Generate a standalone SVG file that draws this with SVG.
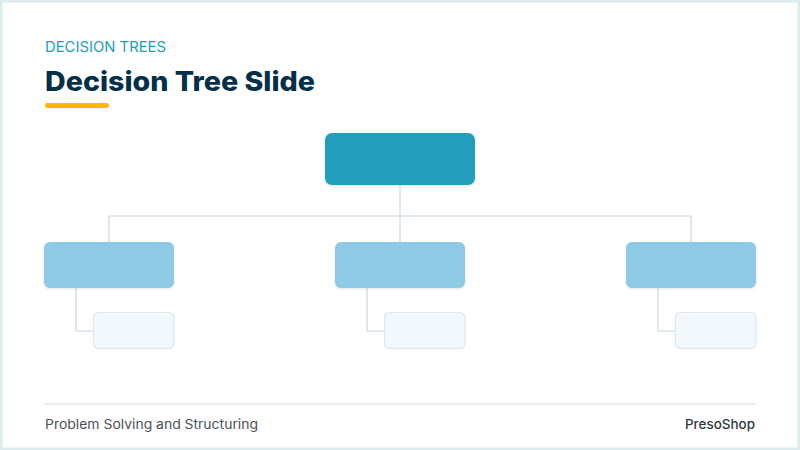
<svg xmlns="http://www.w3.org/2000/svg" width="800" height="450" viewBox="0 0 800 450">
  <defs>
    <style>
      .frame { fill: #ffffff; stroke: #dcebee; stroke-width: 5; }
      .kicker { font-family: Inter, "Noto Sans", sans-serif; font-size: 15px; fill: #219ebc; }
      .title { font-family: Inter, "Noto Sans", sans-serif; font-size: 27px; font-weight: 800; fill: #033049; }
      .foot { font-family: Inter, "Noto Sans", sans-serif; font-size: 13px; fill: #4a5157; }
      .brand { font-family: Inter, "Noto Sans", sans-serif; font-size: 13px; font-weight: 500; fill: #2f383f; }
      .root { fill: #219ebc; }
      .branch { fill: #8ecae6; }
      .leaf { fill: #f3f8fc; stroke: #dde6eb; stroke-width: 1.2; }
      .conn { fill: none; stroke: #d6e2e6; stroke-width: 1.6; }
    </style>
    <filter id="sh" x="-10%" y="-10%" width="120%" height="130%">
      <feDropShadow dx="0" dy="1" stdDeviation="1.2" flood-color="#0a3a4a" flood-opacity="0.12"/>
    </filter>
  </defs>

  <rect class="frame" x="0" y="0" width="800" height="450"/>

  <text class="kicker" x="45" y="51.5" textLength="121" lengthAdjust="spacingAndGlyphs">DECISION TREES</text>
  <text class="title" x="45" y="90.5" textLength="270" lengthAdjust="spacingAndGlyphs">Decision Tree Slide</text>
  <rect x="45" y="103" width="64" height="5" rx="2.5" fill="#ffb703"/>

  <g id="connectors">
    <path class="conn" d="M400 185 V242"/>
    <path class="conn" d="M109 242 V216 H691 V242"/>
    <path class="conn" d="M76 288 V331 H93"/>
    <path class="conn" d="M367 288 V331 H384"/>
    <path class="conn" d="M658 288 V331 H675"/>
  </g>

  <g id="root">
    <rect class="root" x="325" y="133" width="150" height="52" rx="7" filter="url(#sh)"/>
  </g>

  <g id="branch-left">
    <rect class="branch" x="44" y="242" width="130" height="46" rx="6" filter="url(#sh)"/>
  </g>
  <g id="branch-middle">
    <rect class="branch" x="335" y="242" width="130" height="46" rx="6" filter="url(#sh)"/>
  </g>
  <g id="branch-right">
    <rect class="branch" x="626" y="242" width="130" height="46" rx="6" filter="url(#sh)"/>
  </g>

  <g id="leaf-left">
    <rect class="leaf" x="93.5" y="312.5" width="80.5" height="36" rx="5"/>
  </g>
  <g id="leaf-middle">
    <rect class="leaf" x="384.5" y="312.5" width="80.5" height="36" rx="5"/>
  </g>
  <g id="leaf-right">
    <rect class="leaf" x="675.5" y="312.5" width="80.5" height="36" rx="5"/>
  </g>

  <line x1="44" y1="404" x2="756" y2="404" stroke="#e1e8eb" stroke-width="1.5"/>
  <text class="foot" x="45" y="429" textLength="213" lengthAdjust="spacingAndGlyphs">Problem Solving and Structuring</text>
  <text class="brand" x="755" y="429" text-anchor="end" textLength="70" lengthAdjust="spacingAndGlyphs">PresoShop</text>
</svg>
